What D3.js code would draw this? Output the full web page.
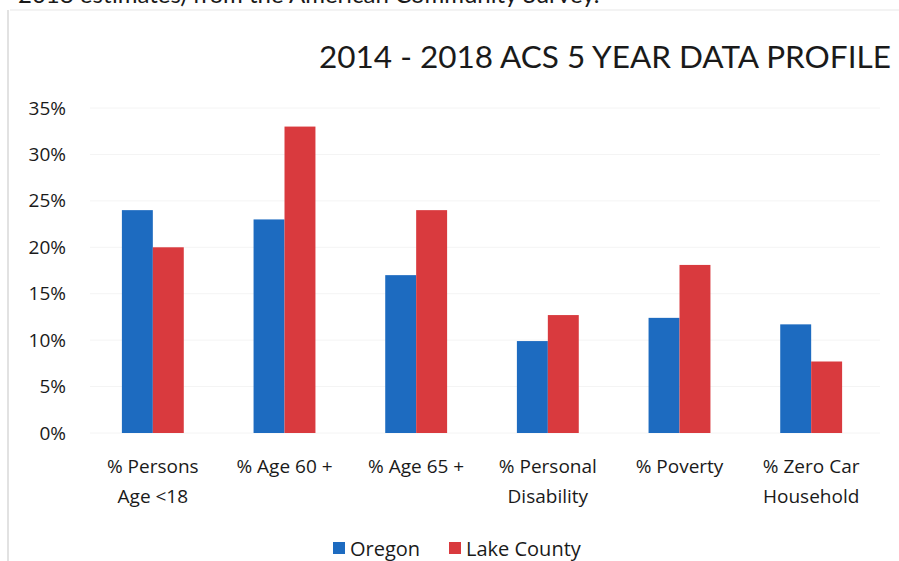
<!DOCTYPE html>
<html>
<head>
<meta charset="utf-8">
<script src="https://cdn.jsdelivr.net/npm/d3@7"></script>
<style>
  body { margin: 0; background: #fff; }
  text { font-family: "Open Sans", Lato, sans-serif; fill: #1a1a1a; }
</style>
</head>
<body>
<div id="chart"></div>
<script>
var categories = ["% Persons|Age <18", "% Age 60 +", "% Age 65 +", "% Personal|Disability", "% Poverty", "% Zero Car|Household"]
var seriesNames = ["Oregon", "Lake County"]
var oregon = [0.24, 0.23, 0.17, 0.099, 0.124, 0.117]
var lakeCounty = [0.20, 0.33, 0.24, 0.127, 0.181, 0.077]
var yTicks = [0, 0.05, 0.10, 0.15, 0.20, 0.25, 0.30, 0.35]
var colors = ["#1d6bc0", "#d93a3e"]

function draw_chart(config) {
    var width = config.width || 899
    var height = config.height || 561

    var svg = d3.select(config.placeholder).append("svg")
        .attr("width", width)
        .attr("height", height)

    // scanned page bits around the chart
    svg.append("text")
        .attr("x", 18).attr("y", 3)
        .style("font-family", "Lato, sans-serif")
        .style("font-size", "24px")
        .text("2018 estimates) from the American Community Survey.")
    svg.append("line")
        .attr("x1", 10).attr("x2", width).attr("y1", 10).attr("y2", 10)
        .style("stroke", "#efefef").style("stroke-width", 1.5)
    svg.append("line")
        .attr("x1", 8).attr("x2", 8).attr("y1", 10).attr("y2", height)
        .style("stroke", "#e2e2e2").style("stroke-width", 2)

    var rows = categories.map(function (c, i) {
        return { cat: c, values: [oregon[i], lakeCounty[i]] }
    })

    var y = d3.scaleLinear().domain([0, 0.35]).range([433, 108])
    var x0 = d3.scaleBand().domain(categories).range([87, 877])
        .paddingInner(0.53).paddingOuter(0.265)
    var x1 = d3.scaleBand().domain(seriesNames).range([0, x0.bandwidth()])

    // gridlines (barely visible in the scan)
    svg.append("g").selectAll("line")
        .data(yTicks)
        .enter().append("line")
        .attr("x1", 90).attr("x2", 880)
        .attr("y1", function (d) { return y(d) }).attr("y2", function (d) { return y(d) })
        .style("stroke", "#f4f4f4")

    var yAxis = svg.append("g")
        .attr("transform", "translate(70,0)")
        .call(d3.axisLeft(y).tickValues(yTicks).tickSize(0).tickPadding(4)
            .tickFormat(d3.format(".0%")))
    yAxis.select(".domain").remove()
    yAxis.selectAll("text")
        .style("font-family", "'Open Sans', sans-serif")
        .style("font-size", "19px")
        .style("fill", "#1a1a1a")

    var groups = svg.append("g").selectAll("g.grp")
        .data(rows)
        .enter().append("g")
        .attr("class", "grp")
        .attr("transform", function (d) { return "translate(" + x0(d.cat) + ",0)" })

    groups.selectAll("rect")
        .data(function (d) { return d.values })
        .enter().append("rect")
        .attr("x", function (d, i) { return x1(seriesNames[i]) })
        .attr("width", x1.bandwidth())
        .attr("y", function (d) { return y(d) })
        .attr("height", function (d) { return y(0) - y(d) })
        .style("fill", function (d, i) { return colors[i] })

    var labels = svg.append("g").selectAll("text.xl")
        .data(categories)
        .enter().append("text")
        .attr("class", "xl")
        .attr("text-anchor", "middle")
        .style("font-size", "19px")
    labels.selectAll("tspan")
        .data(function (d) { return d.split("|").map(function (t) { return { t: t, c: d } }) })
        .enter().append("tspan")
        .attr("x", function (d) { return x0(d.c) + x0.bandwidth() / 2 })
        .attr("y", function (d, i) { return 473 + i * 30 })
        .text(function (d) { return d.t })

    svg.append("text")
        .attr("x", 319).attr("y", 68)
        .style("font-family", "Lato, sans-serif")
        .style("font-size", "31.5px")
        .text("2014 - 2018 ACS 5 YEAR DATA PROFILE")

    var legendX = [333, 449]
    var legend = svg.append("g").selectAll("g.leg")
        .data(seriesNames)
        .enter().append("g")
        .attr("class", "leg")
        .attr("transform", function (d, i) { return "translate(" + legendX[i] + ",0)" })
    legend.append("rect")
        .attr("x", 0).attr("y", 542).attr("width", 12).attr("height", 12)
        .style("fill", function (d, i) { return colors[i] })
    legend.append("text")
        .attr("x", 17).attr("y", 556)
        .style("font-size", "20px")
        .text(function (d) { return d })
}

draw_chart({ placeholder: "#chart" })
</script>
</body>
</html>
